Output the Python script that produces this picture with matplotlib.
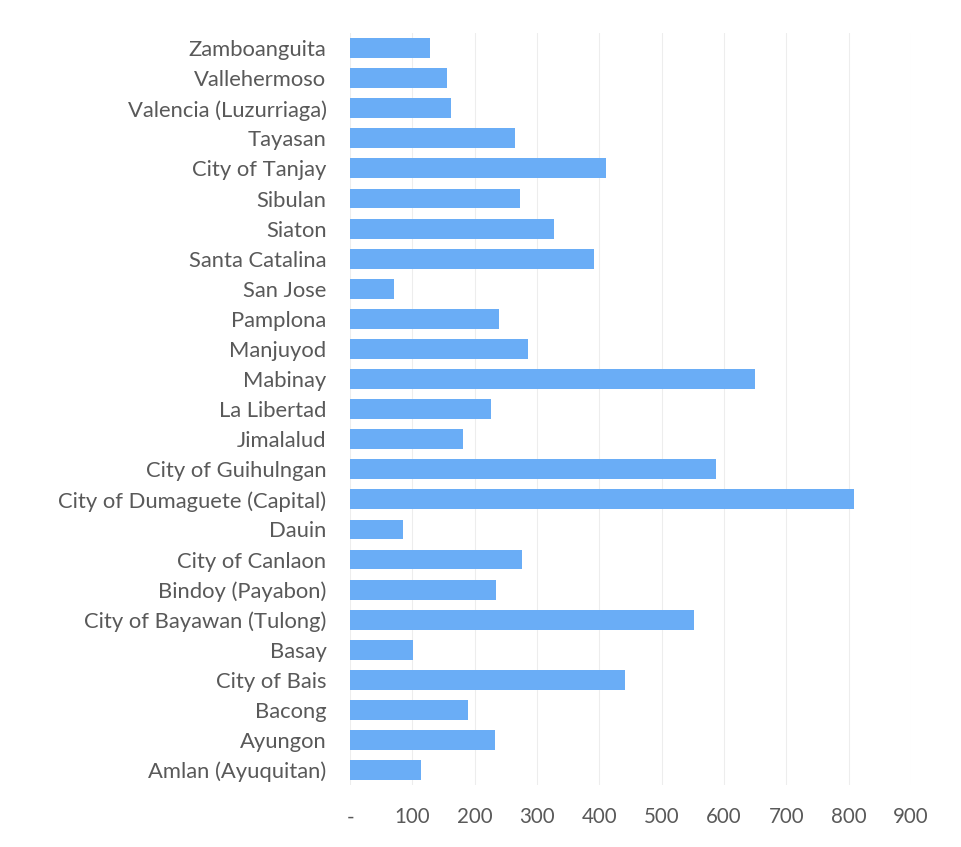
import matplotlib.pyplot as plt

# municipalities, bottom to top
towns = ['Amlan (Ayuquitan)', 'Ayungon', 'Bacong', 'City of Bais', 'Basay',
         'City of Bayawan (Tulong)', 'Bindoy (Payabon)', 'City of Canlaon', 'Dauin',
         'City of Dumaguete (Capital)', 'City of Guihulngan', 'Jimalalud', 'La Libertad',
         'Mabinay', 'Manjuyod', 'Pamplona', 'San Jose', 'Santa Catalina', 'Siaton',
         'Sibulan', 'City of Tanjay', 'Tayasan', 'Valencia (Luzurriaga)',
         'Vallehermoso', 'Zamboanguita']
values = [114, 233, 189, 441, 101,
          552, 234, 276, 85,
          809, 587, 181, 226,
          650, 286, 239, 71, 392, 327,
          273, 411, 265, 162,
          156, 128]
xticks = [0, 100, 200, 300, 400, 500, 600, 700, 800, 900]
xticklabels = ['-', '100', '200', '300', '400', '500', '600', '700', '800', '900']

plt.rcParams['font.family'] = ['Lato', 'DejaVu Sans']

fig = plt.figure(figsize=(9.62, 8.47), dpi=100)
ax = fig.add_axes([0.364, 0.073, 0.583, 0.888])

ax.barh(range(len(towns)), values, height=0.66, color='#6aadf6', zorder=2)
ax.set_yticks(range(len(towns)))
ax.set_yticklabels(towns)
ax.set_xticks(xticks)
ax.set_xticklabels(xticklabels)
ax.set_xlim(0, 900)
ax.set_ylim(-0.5, len(towns) - 0.5)

ax.grid(axis='x', color='#ededed', linewidth=0.8, zorder=0)
for s in ax.spines.values():
    s.set_visible(False)
ax.tick_params(length=0, labelcolor='#595959')
ax.tick_params(axis='y', labelsize=15.8, pad=17)
ax.tick_params(axis='x', labelsize=14.8, pad=16)

fig.savefig('out.png', dpi=100)
